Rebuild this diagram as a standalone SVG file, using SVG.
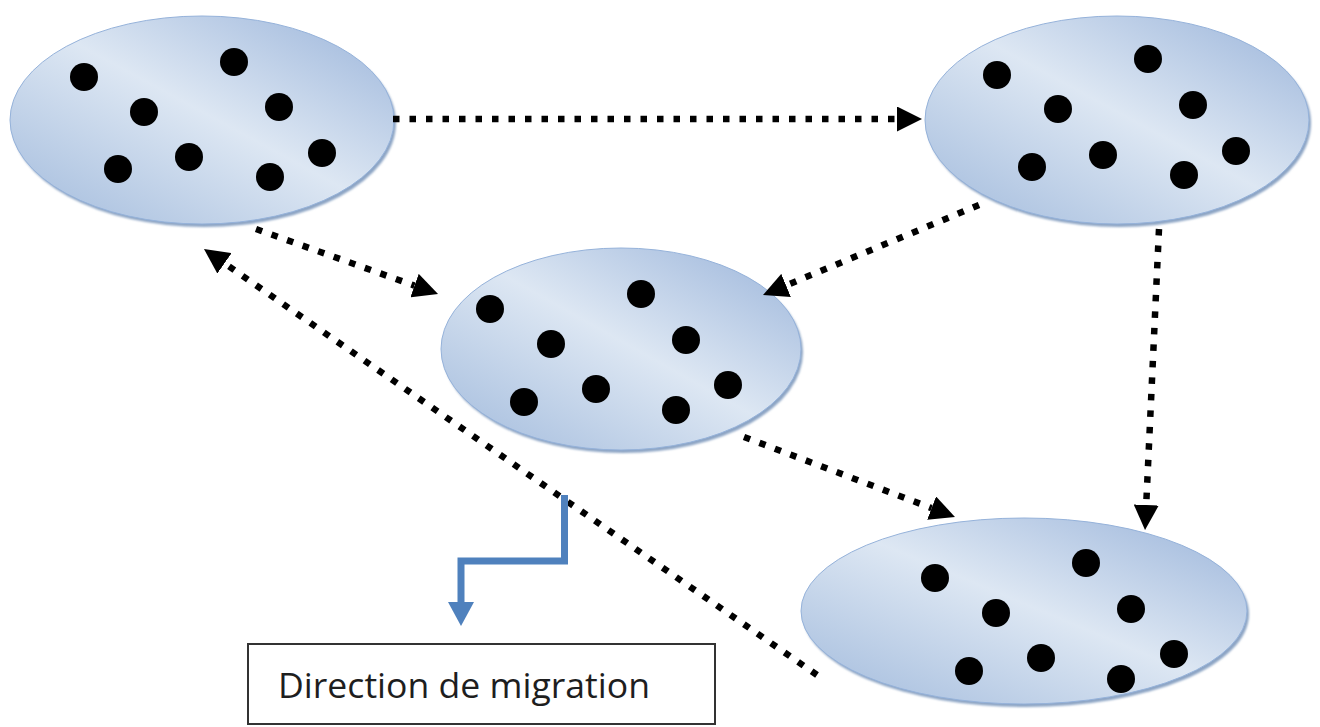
<svg xmlns="http://www.w3.org/2000/svg" width="1320" height="727" viewBox="0 0 1320 727">
  <defs>
    <linearGradient id="fill" x1="1" y1="0" x2="0" y2="1">
      <stop offset="0" stop-color="#9ab4da"/>
      <stop offset="0.48" stop-color="#dde7f3"/>
      <stop offset="1" stop-color="#a1badc"/>
    </linearGradient>
    <filter id="blur" x="-5%" y="-5%" width="110%" height="110%">
      <feGaussianBlur stdDeviation="1.2"/>
    </filter>
    <marker id="arrow" markerUnits="userSpaceOnUse" markerWidth="25" markerHeight="25" viewBox="0 -12.5 25 25" refX="0" refY="0" orient="auto">
      <path d="M0,-12.5 L25,0 L0,12.5 z" fill="#000"/>
    </marker>
    <style>
      .shadow { fill: #8ca4c4; filter: url(#blur); }
      .body { fill: url(#fill); stroke: #95b2da; stroke-width: 1; }
      .dot { fill: #000; }
      .link { fill: none; stroke: #000; stroke-width: 6.5; stroke-dasharray: 6.5 10; marker-end: url(#arrow); }
      .label { font-family: "Open Sans", "Liberation Sans", sans-serif; font-size: 34px; fill: #1e1e1e; }
    </style>
  </defs>
  <rect width="1320" height="727" fill="#fff"/>

  <g id="node-tl">
    <ellipse class="shadow" cx="204" cy="123" rx="192" ry="104"/>
    <ellipse class="body" cx="202" cy="120" rx="192" ry="104"/>
    <circle class="dot" cx="84" cy="77" r="14"/>
    <circle class="dot" cx="234" cy="62" r="14"/>
    <circle class="dot" cx="144" cy="112" r="14"/>
    <circle class="dot" cx="279" cy="107" r="14"/>
    <circle class="dot" cx="118" cy="169" r="14"/>
    <circle class="dot" cx="189" cy="157" r="14"/>
    <circle class="dot" cx="270" cy="177" r="14"/>
    <circle class="dot" cx="322" cy="153" r="14"/>
  </g>

  <g id="node-tr">
    <ellipse class="shadow" cx="1119" cy="123" rx="192" ry="104"/>
    <ellipse class="body" cx="1117" cy="120" rx="192" ry="104"/>
    <circle class="dot" cx="997" cy="75" r="14"/>
    <circle class="dot" cx="1148" cy="59" r="14"/>
    <circle class="dot" cx="1058" cy="109" r="14"/>
    <circle class="dot" cx="1193" cy="105" r="14"/>
    <circle class="dot" cx="1032" cy="167" r="14"/>
    <circle class="dot" cx="1103" cy="155" r="14"/>
    <circle class="dot" cx="1184" cy="175" r="14"/>
    <circle class="dot" cx="1236" cy="151" r="14"/>
  </g>

  <g id="node-mid">
    <ellipse class="shadow" cx="623" cy="352" rx="180" ry="101"/>
    <ellipse class="body" cx="621" cy="349" rx="180" ry="101"/>
    <circle class="dot" cx="490" cy="309" r="14"/>
    <circle class="dot" cx="641" cy="294" r="14"/>
    <circle class="dot" cx="551" cy="344" r="14"/>
    <circle class="dot" cx="686" cy="340" r="14"/>
    <circle class="dot" cx="524" cy="402" r="14"/>
    <circle class="dot" cx="596" cy="389" r="14"/>
    <circle class="dot" cx="676" cy="410" r="14"/>
    <circle class="dot" cx="728" cy="385" r="14"/>
  </g>

  <g id="node-br">
    <ellipse class="shadow" cx="1026" cy="614" rx="223" ry="93"/>
    <ellipse class="body" cx="1024" cy="611" rx="223" ry="93"/>
    <circle class="dot" cx="935" cy="578" r="14"/>
    <circle class="dot" cx="1086" cy="563" r="14"/>
    <circle class="dot" cx="996" cy="613" r="14"/>
    <circle class="dot" cx="1131" cy="609" r="14"/>
    <circle class="dot" cx="969" cy="671" r="14"/>
    <circle class="dot" cx="1041" cy="658" r="14"/>
    <circle class="dot" cx="1121" cy="679" r="14"/>
    <circle class="dot" cx="1174" cy="654" r="14"/>
  </g>

  <g id="connectors">
    <line class="link" x1="393" y1="119" x2="897" y2="119"/>
    <line class="link" x1="256" y1="229" x2="414.5" y2="285.6"/>
    <line class="link" x1="817" y1="675" x2="224.5" y2="263.3"/>
    <line class="link" x1="979" y1="205" x2="786.1" y2="285.4"/>
    <line class="link" x1="1159" y1="229" x2="1146.2" y2="505"/>
    <line class="link" x1="744" y1="437" x2="931.6" y2="508.1"/>
    <polyline points="564.5,495 564.5,561 461,561 461,604" fill="none" stroke="#4f81bd" stroke-width="7" stroke-linejoin="miter"/>
    <polygon points="448,602 474,602 461,626" fill="#4f81bd"/>
  </g>

  <g id="label">
    <rect x="248" y="644" width="467" height="80" fill="#fff" stroke="#333" stroke-width="2"/>
    <text class="label" x="278" y="698" textLength="372" lengthAdjust="spacingAndGlyphs">Direction de migration</text>
  </g>
</svg>
